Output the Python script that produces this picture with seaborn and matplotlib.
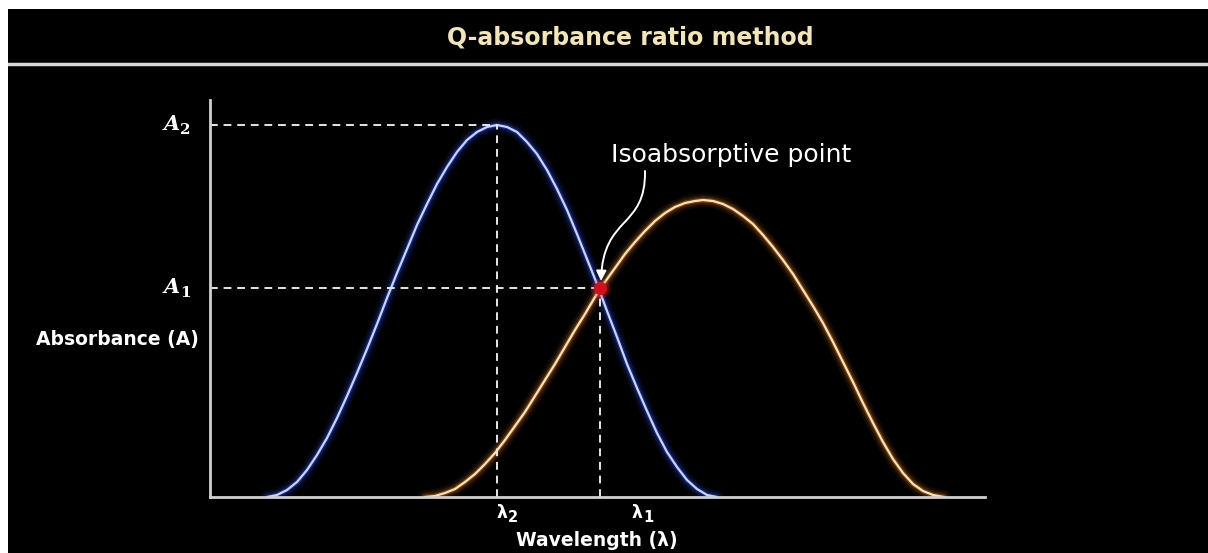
import numpy as np
import pandas as pd
import matplotlib
matplotlib.use("Agg")
import matplotlib.pyplot as plt
import seaborn as sns
from matplotlib.path import Path
from matplotlib.patches import FancyArrowPatch

# Spectra (arbitrary units)
blue_wl = [57, 67, 77, 87, 97, 107, 117, 127, 137, 147, 157, 167, 177, 187, 197, 207,
           217, 227, 237, 247, 257, 267, 277, 287,
           297, 307, 317, 327, 337, 347, 357, 367, 377, 387, 397, 407, 417, 427, 437,
           447, 457, 467, 477, 487, 497, 507]
blue_abs = [0, 2, 7, 15, 27, 42, 59, 79, 101, 124, 148, 173, 199, 224, 248, 272,
            293, 313, 330, 345, 357, 365, 370, 372,
            370, 365, 355, 343, 327, 308, 287, 263, 238, 213, 186, 160, 133, 109, 86,
            64, 45, 30, 17, 8, 2, 0]

orange_wl = [215, 225, 235, 245, 255, 265, 275, 285, 295, 305, 315, 325, 335, 345, 355,
             365, 375, 385, 395, 405, 415, 425, 435, 445, 455, 465, 475, 485, 493,
             503, 513, 523, 533, 543, 553, 563, 573, 583, 593, 603, 613, 623, 633, 643,
             653, 663, 673, 683, 693, 703, 713, 723, 734]
orange_abs = [0, 1, 4, 8, 15, 23, 33, 44, 57, 71, 85, 101, 117, 133, 150,
              167, 183, 200, 215, 229, 243, 255, 266, 276, 284, 290, 294, 296, 297,
              296, 293, 288, 281, 273, 262, 250, 237, 223, 207, 191, 174, 155, 135, 115,
              94, 74, 55, 38, 24, 13, 6, 2, 0]

# key points
lambda2, A2 = 287, 372
lambda1, A1 = 390, 209
tick_pos = [292, 427]
tick_subs = ["2", "1"]

blue = pd.DataFrame({"wl": blue_wl, "A": blue_abs})
orange = pd.DataFrame({"wl": orange_wl, "A": orange_abs})

sns.set_style("dark")
plt.rcParams['font.family'] = ['DejaVu Sans']

fig = plt.figure(figsize=(12.08, 5.53), dpi=100, facecolor="white")

# black slide background with title bar
bg = fig.add_axes([8 / 1208, 0, 1200 / 1208, 544 / 553])
bg.set_xlim(0, 1)
bg.set_ylim(0, 1)
bg.axis("off")
bg.add_patch(plt.Rectangle((0, 0), 1, 1, color="black", zorder=0))
bg.axhline(1 - 55 / 544, color="#d8d8d8", lw=2.5)
bg.text((630 - 8) / 1200, 1 - 28 / 544, "Q-absorbance ratio method", ha="center", va="center",
        color="#f3e6b4", fontsize=17, fontweight="bold")

ax = fig.add_axes([210 / 1208, 56 / 553, 775 / 1208, 397 / 553])
ax.patch.set_alpha(0)
ax.set_xlim(0, 775)
ax.set_ylim(0, 397)

# glowing curves
for lw, al in [(10, 0.08), (6.5, 0.15), (3.5, 0.35)]:
    sns.lineplot(data=blue, x="wl", y="A", ax=ax, color="#2f50ff", lw=lw, alpha=al)
    sns.lineplot(data=orange, x="wl", y="A", ax=ax, color="#e8801c", lw=lw, alpha=al)
sns.lineplot(data=blue, x="wl", y="A", ax=ax, color="#c8d6ff", lw=1.6)
sns.lineplot(data=orange, x="wl", y="A", ax=ax, color="#ffe2b8", lw=1.6)

# dashed guides
dash = dict(color="#e6e6e6", lw=1.4, ls=(0, (4, 3)))
ax.plot([0, lambda2], [A2, A2], **dash)
ax.plot([lambda2, lambda2], [0, A2], **dash)
ax.plot([0, lambda1], [A1, A1], **dash)
ax.plot([lambda1, lambda1], [0, A1], **dash)

# isoabsorptive point
ax.scatter([lambda1], [A1], s=200, color="#ff2020", alpha=0.25, zorder=5, linewidths=0)
ax.scatter([lambda1], [A1], s=90, color="#d0101c", zorder=6, linewidths=0)

ax.text(401, 342, "Isoabsorptive point", color="white", fontsize=18, va="center", ha="left")
verts = [(435, 326), (436, 268), (393, 282), (391, 216)]
path = Path(verts, [Path.MOVETO, Path.CURVE4, Path.CURVE4, Path.CURVE4])
ax.add_patch(FancyArrowPatch(path=path, arrowstyle="-|>,head_length=6,head_width=3",
                             color="white", lw=1.4, zorder=7))

# axes look
for side in ["top", "right"]:
    ax.spines[side].set_visible(False)
for side in ["left", "bottom"]:
    ax.spines[side].set_color("#d0d0d0")
    ax.spines[side].set_linewidth(2)
ax.set_xticks([])
ax.set_yticks([])
ax.set_xlabel("")
ax.set_ylabel("")
ax.grid(False)

# A2 / A1 labels
for level, sub in [(A2, "2"), (A1, "1")]:
    ax.text(-38, level + 1, "A", family="DejaVu Serif", fontweight="bold", style="italic",
            fontsize=15, color="white", ha="center", va="center")
    ax.text(-25, level - 5, sub, family="DejaVu Serif", fontweight="bold",
            fontsize=11, color="white", ha="center", va="center")

# lambda tick labels
for pos, sub in zip(tick_pos, tick_subs):
    ax.text(pos, -16, "λ", color="white", fontsize=12.5, fontweight="bold", ha="center", va="center")
    ax.text(pos + 11, -21, sub, color="white", fontsize=10.5, fontweight="bold", ha="center", va="center")

ax.text(387, -43, "Wavelength (λ)", color="white", fontsize=13.5, fontweight="bold",
        ha="center", va="center")
ax.text(-93, 158, "Absorbance (A)", color="white", fontsize=13.5, fontweight="bold",
        ha="center", va="center")

fig.savefig("out.png", dpi=100, facecolor=fig.get_facecolor())
